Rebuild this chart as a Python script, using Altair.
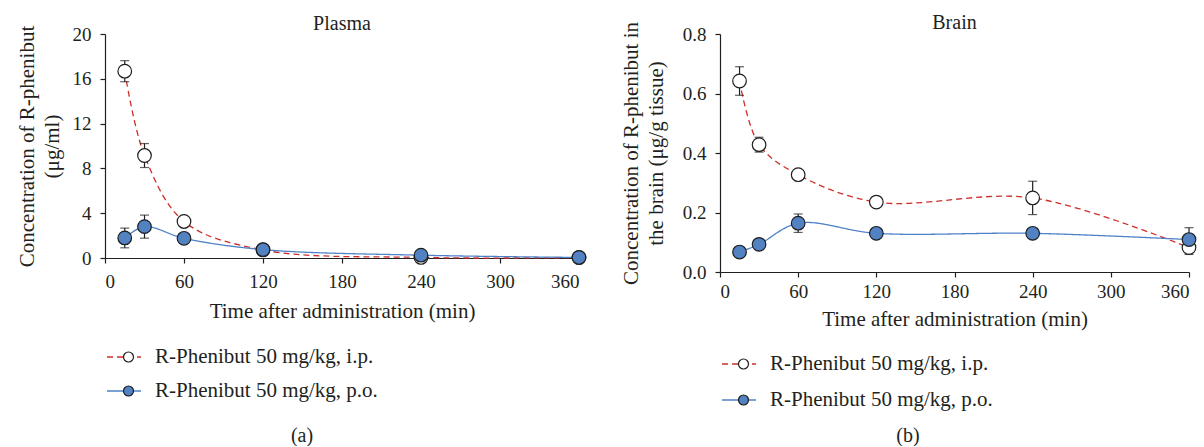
import altair as alt
import pandas as pd

# ---------------- data ----------------
times = [15, 30, 60, 120, 240, 360]
series_names = ["R-Phenibut 50 mg/kg, i.p.", "R-Phenibut 50 mg/kg, p.o."]

plasma_ip = [16.68, 9.15, 3.26, 0.72, 0.05, 0.04]
plasma_ip_sd = [0.94, 1.07, 0.30, 0.20, 0.10, 0.05]
plasma_po = [1.79, 2.80, 1.76, 0.75, 0.25, 0.05]
plasma_po_sd = [0.88, 1.03, 0.30, 0.20, 0.10, 0.05]

brain_ip = [0.642, 0.428, 0.327, 0.235, 0.249, 0.082]
brain_ip_sd = [0.048, 0.025, 0.010, 0.010, 0.056, 0.023]
brain_po = [0.067, 0.093, 0.164, 0.130, 0.130, 0.109]
brain_po_sd = [0.005, 0.005, 0.031, 0.005, 0.005, 0.040]

x_ticks = [0, 60, 120, 180, 240, 300, 360]
plasma_y_ticks = [0, 4, 8, 12, 16, 20]
brain_y_ticks = [0.0, 0.2, 0.4, 0.6, 0.8]

# ---------------- styles ----------------
FONT = "Liberation Serif"
TXT = "#231f20"
RED = "#cc2f2a"
BLUE_LINE = "#4f81c7"
BLUE_FILL = "#5282c2"
MARK_STROKE = "#1e1e1e"


def frame(ip, ip_sd, po, po_sd):
    rows = []
    for name, vals, sds in ((series_names[0], ip, ip_sd), (series_names[1], po, po_sd)):
        for t, v, s in zip(times, vals, sds):
            rows.append({"time": t, "value": v, "lo": v - s, "hi": v + s,
                         "series": name, "grp": name})
    return pd.DataFrame(rows)


def panel(df, width, height, ydomain, yticks, yfmt, ytitle, ytitle_pad, title,
          title_dy, leg_y, leg_row, caption, cap_x, cap_y, lab_pad, title_pad):
    xs = alt.Scale(domain=[0, 360], nice=False)
    ys = alt.Scale(domain=ydomain, nice=False)
    xax = alt.Axis(values=x_ticks, title="Time after administration (min)",
                   labelPadding=lab_pad, titlePadding=title_pad)
    yax = alt.Axis(values=yticks, format=yfmt, title=ytitle, labelPadding=9,
                   titlePadding=ytitle_pad)
    base = alt.Chart(df)
    leg_common = dict(orient="none", title=None, padding=0, labelFont=FONT,
                      labelFontSize=21, labelColor=TXT, rowPadding=leg_row,
                      labelLimit=400, clipHeight=20)
    line_leg = alt.Legend(legendX=1, legendY=leg_y, symbolType="stroke",
                          symbolSize=34 * 34, symbolStrokeWidth=1.3,
                          labelOffset=13, **leg_common)
    lines = base.mark_line(interpolate="catmull-rom", strokeWidth=1.3).encode(
        x=alt.X("time:Q", scale=xs, axis=xax),
        y=alt.Y("value:Q", scale=ys, axis=yax),
        color=alt.Color("series:N", scale=alt.Scale(range=[RED, BLUE_LINE]),
                        legend=line_leg),
        strokeDash=alt.StrokeDash("series:N",
                                  scale=alt.Scale(range=[[6, 4], [1, 0]]),
                                  legend=line_leg),
    )
    err = base.mark_rule(color=MARK_STROKE, strokeWidth=1.2).encode(
        x="time:Q", y="lo:Q", y2="hi:Q")
    cap_lo = base.mark_tick(orient="horizontal", size=9, thickness=1.2,
                            color=MARK_STROKE).encode(x="time:Q", y="lo:Q")
    cap_hi = base.mark_tick(orient="horizontal", size=9, thickness=1.2,
                            color=MARK_STROKE).encode(x="time:Q", y="hi:Q")
    pt_leg = alt.Legend(legendX=13, legendY=leg_y, symbolType="circle",
                        symbolSize=100, symbolStrokeColor=MARK_STROKE,
                        symbolStrokeWidth=1.2, labelExpr="''", **leg_common)
    pts = base.mark_point(filled=True, size=185, stroke=MARK_STROKE,
                          strokeWidth=1.2, opacity=1).encode(
        x="time:Q", y="value:Q",
        fill=alt.Fill("grp:N", scale=alt.Scale(range=["#ffffff", BLUE_FILL]),
                      legend=pt_leg),
    )
    cap = alt.Chart(pd.DataFrame({"t": [caption]})).mark_text(
        font=FONT, fontSize=20, color=TXT).encode(
        text="t:N", x=alt.value(cap_x), y=alt.value(cap_y))
    return alt.layer(lines, err, cap_lo, cap_hi, pts, cap).resolve_scale(
        color="independent", fill="independent", strokeDash="independent"
    ).properties(
        width=width, height=height,
        title=alt.Title(title, font=FONT, fontSize=20, fontWeight="normal",
                        color=TXT, anchor="middle", frame="group", dy=title_dy),
    )


pa = panel(frame(plasma_ip, plasma_ip_sd, plasma_po, plasma_po_sd),
           474, 224, [0, 20], plasma_y_ticks, "d",
           ["Concentration of R-phenibut", "(μg/ml)"], 10, "Plasma", 13,
           313, 13, "(a)", 197, 402, 9, 9)
pb = panel(frame(brain_ip, brain_ip_sd, brain_po, brain_po_sd),
           469, 238, [0, 0.8], brain_y_ticks, ".1f",
           ["Concentration of R-phenibut in", "the brain (μg/g tissue)"], 16,
           "Brain", 16, 320, 15, "(b)", 188, 402, 5, 7)

chart = alt.hconcat(pa, pb, spacing=31).resolve_scale(
    color="independent", fill="independent", strokeDash="independent",
    x="independent", y="independent"
).resolve_legend(
    color="independent", fill="independent", strokeDash="independent"
).properties(
    padding={"left": 15, "top": 13, "right": 0, "bottom": 0},
    background="white",
).configure_view(stroke=None).configure_axis(
    labelFont=FONT, labelFontSize=19, labelColor=TXT,
    titleFont=FONT, titleFontSize=21, titleColor=TXT, titleFontWeight="normal",
    titleLineHeight=25,
    domainColor=TXT, tickColor=TXT, tickSize=5, domainWidth=1.2, tickWidth=1.2,
    grid=False,
)

chart.save("out.html", embed_options={"renderer": "svg", "actions": False})
